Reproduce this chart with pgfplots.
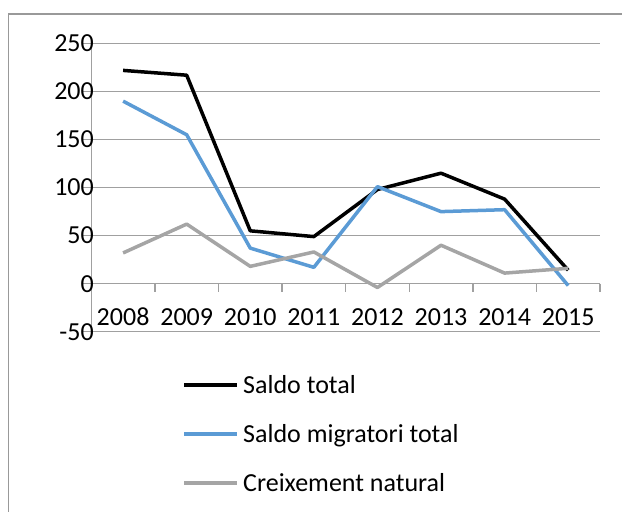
\documentclass[border=0pt]{standalone}
\usepackage{fontspec}
\setmainfont{Carlito}
\usepackage{pgfplots}
\pgfplotsset{compat=1.18}
\definecolor{cblue}{HTML}{5B9BD5}
\definecolor{cgray}{HTML}{A5A5A5}
\definecolor{gridc}{HTML}{A0A0A0}
\definecolor{framec}{HTML}{999999}
\newcommand{\cfont}{\fontsize{26bp}{31bp}\selectfont}
\begin{document}
\begin{tikzpicture}[font=\cfont]
\path[use as bounding box] (0,0) rectangle (622bp,512bp);
\draw[framec, line width=1.4bp] (8.5bp,-2bp) -- (8.5bp,498bp) -- (630bp,498bp);
\begin{axis}[
  at={(91.3bp,180.3bp)}, anchor=south west,
  scale only axis, width=508.7bp, height=288.2bp,
  xmin=-0.5, xmax=7.5, ymin=-50, ymax=250,
  axis x line*=bottom, axis y line*=left,
  axis line style={-},
  x axis line style={draw=none},
  y axis line style={gridc, line width=1.4bp},
  xtick={0,1,2,3,4,5,6,7},
  xticklabels={2008,2009,2010,2011,2012,2013,2014,2015},
  x tick style={draw=none},
  ytick={-50,0,50,100,150,200,250},
  yticklabels={-50,0,50,100,150,200,250},
  tick align=outside,
  major tick length=8bp,
  y tick style={gridc, line width=1.4bp},
  ymajorgrids,
  grid style={gridc, line width=1.4bp},
  clip=false,
  every x tick label/.append style={font=\cfont, inner sep=0pt, anchor=center},
  every y tick label/.append style={font=\cfont, inner sep=0pt, anchor=east},
  xticklabel shift=-23bp,
  yticklabel style={xshift=10.7bp},
  legend style={at={(axis description cs:0.1797,-0.1537)}, anchor=north west,
    draw=none, fill=none, inner sep=0pt, outer sep=0pt,
    row sep=31bp, column sep=4bp, cells={anchor=west},
    nodes={inner sep=0pt, text height=18bp, text depth=0pt, font=\cfont}},
  legend image code/.code={\draw[#1] (0bp,0bp) -- (53bp,0bp);},
  every axis plot/.append style={line width=3.5bp, line join=round},
]
\draw[gridc, line width=1.4bp] (axis cs:0.5,0) -- ++(0pt,-8bp);
\draw[gridc, line width=1.4bp] (axis cs:1.5,0) -- ++(0pt,-8bp);
\draw[gridc, line width=1.4bp] (axis cs:2.5,0) -- ++(0pt,-8bp);
\draw[gridc, line width=1.4bp] (axis cs:3.5,0) -- ++(0pt,-8bp);
\draw[gridc, line width=1.4bp] (axis cs:4.5,0) -- ++(0pt,-8bp);
\draw[gridc, line width=1.4bp] (axis cs:5.5,0) -- ++(0pt,-8bp);
\draw[gridc, line width=1.4bp] (axis cs:6.5,0) -- ++(0pt,-8bp);
\draw[gridc, line width=1.4bp] (axis cs:7.5,0) -- ++(0pt,-8bp);
\addplot[black] coordinates {(0,222) (1,217) (2,55) (3,49) (4,98) (5,115) (6,88) (7,14)};
\addlegendentry{Saldo total}
\addplot[cblue] coordinates {(0,190) (1,155) (2,37) (3,17) (4,101) (5,75) (6,77) (7,-2)};
\addlegendentry{Saldo migratori total}
\addplot[cgray] coordinates {(0,32) (1,62) (2,18) (3,33) (4,-4) (5,40) (6,11) (7,16)};
\addlegendentry{Creixement natural}
\end{axis}
\end{tikzpicture}
\end{document}
